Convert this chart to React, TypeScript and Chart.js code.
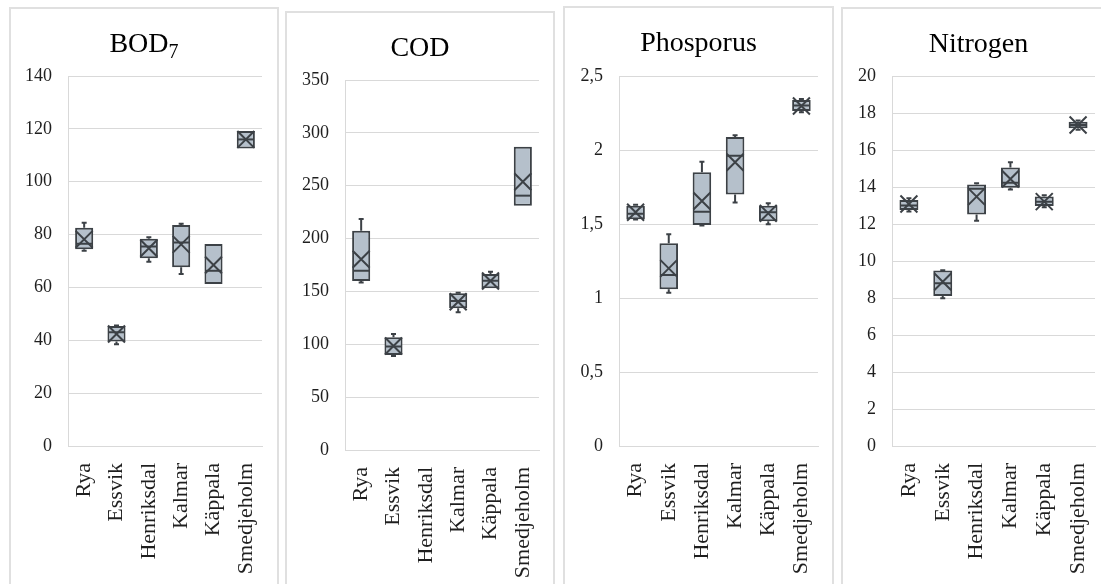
import React, { useEffect, useRef } from "react";
import { Chart, registerables } from "chart.js";

Chart.register(...registerables);

// ---------- data ----------
const categories = ["Rya", "Essvik", "Henriksdal", "Kalmar", "Käppala", "Smedjeholm"];

const bodMin = [73.9, 38.5, 69.7, 65.1, 61.3, 112.6];
const bodQ1 = [74.4, 39.5, 71.0, 67.6, 61.3, 112.6];
const bodMedian = [76.5, 43.0, 75.5, 77.0, 66.3, 116.0];
const bodQ3 = [82.6, 45.4, 78.4, 83.6, 76.4, 119.2];
const bodMax = [84.5, 45.6, 79.0, 84.1, 76.4, 119.2];
const bodMean = [78.2, 42.4, 74.8, 76.3, 68.5, 116.0];
const bodTicks = [0, 20, 40, 60, 80, 100, 120, 140];

const codMin = [158.5, 89.0, null, 130.2, 153.0, 231.1];
const codQ1 = [159.9, 89.9, null, 134.0, 153.0, 231.1];
const codMedian = [169.6, 98.0, null, 141.0, 160.0, 240.6];
const codQ3 = [207.5, 106.6, null, 148.2, 166.5, 286.9];
const codMax = [218.5, 109.7, null, 148.8, 168.7, 286.9];
const codMean = [180.4, 98.4, null, 140.3, 159.9, 253.8];
const codTicks = [0, 50, 100, 150, 200, 250, 300, 350];

const phosMin = [1.53, 1.036, 1.49, 1.646, 1.498, 2.255];
const phosQ1 = [1.532, 1.059, 1.493, 1.7, 1.518, 2.264];
const phosMedian = [1.57, 1.155, 1.583, 1.961, 1.58, 2.3];
const phosQ3 = [1.624, 1.37, 1.849, 2.088, 1.624, 2.338];
const phosMax = [1.63, 1.43, 1.921, 2.099, 1.64, 2.345];
const phosMean = [1.579, 1.2, 1.655, 1.917, 1.572, 2.297];
const phosTicks = ["0", "0,5", "1", "1,5", "2", "2,5"];

const nitMin = [12.67, 7.98, 12.18, 13.87, 12.9, 17.1];
const nitQ1 = [12.76, 8.11, 12.52, 13.96, 12.97, 17.17];
const nitMedian = [13.0, 8.8, 13.9, 14.23, 13.2, 17.35];
const nitQ3 = [13.3, 9.48, 14.14, 15.05, 13.48, 17.53];
const nitMax = [13.39, 9.5, 14.2, 15.34, 13.56, 17.6];
const nitMean = [13.08, 8.88, 13.48, 14.43, 13.21, 17.35];
const nitTicks = [0, 2, 4, 6, 8, 10, 12, 14, 16, 18, 20];

// ---------- styles ----------
const FONT = '"Liberation Serif", "Times New Roman", Times, serif';
const GRID = "#d9d9d9";
const PANEL_BORDER = "#e0e0e0";
const TXT = "#1f1f1f";
const BOX_FILL = "#b5c0cb";
const EDGE = "#3c4146";

type Num = number | null;
interface PanelDef {
  title: string;
  sub?: string;
  min: Num[];
  q1: Num[];
  median: Num[];
  q3: Num[];
  max: Num[];
  mean: Num[];
  ticks: (number | string)[];
  bx: number;
  by: number;
  bw: number;
  pl: number;
  pt: number;
  pr: number;
  pb: number;
}

const BORDER = 2;
const PAGE_BOTTOM = 600;

const panels: PanelDef[] = [
  { title: "BOD", sub: "7", min: bodMin, q1: bodQ1, median: bodMedian, q3: bodQ3, max: bodMax, mean: bodMean, ticks: bodTicks,
    bx: 9, by: 7, bw: 270, pl: 68, pt: 76, pr: 262, pb: 446 },
  { title: "COD", min: codMin, q1: codQ1, median: codMedian, q3: codQ3, max: codMax, mean: codMean, ticks: codTicks,
    bx: 285, by: 11, bw: 270, pl: 345, pt: 80, pr: 539, pb: 450 },
  { title: "Phosporus", min: phosMin, q1: phosQ1, median: phosMedian, q3: phosQ3, max: phosMax, mean: phosMean, ticks: phosTicks,
    bx: 563, by: 6, bw: 271, pl: 619, pt: 76, pr: 818, pb: 446 },
  { title: "Nitrogen", min: nitMin, q1: nitQ1, median: nitMedian, q3: nitQ3, max: nitMax, mean: nitMean, ticks: nitTicks,
    bx: 841, by: 7, bw: 275, pl: 892, pt: 76, pr: 1095, pb: 446 },
];

function tickNumber(t: number | string): number {
  return typeof t === "number" ? t : parseFloat(String(t).replace(",", "."));
}

const PanelChart: React.FC<{ p: PanelDef }> = ({ p }) => {
  const ref = useRef<HTMLCanvasElement | null>(null);
  const cw = p.bw - 2 * BORDER;
  const ch = PAGE_BOTTOM - p.by - 2 * BORDER;
  const cx = p.bx + BORDER;
  const cy = p.by + BORDER;

  useEffect(() => {
    if (!ref.current) return;
    const L = p.pl - cx;
    const T = p.pt - cy;
    const R = cx + cw - p.pr;
    const xH = ch - (p.pb - cy);
    const tickVals = p.ticks.map(tickNumber);
    const yMax = Math.max(...tickVals);
    const step = tickVals[1] - tickVals[0];
    const labelFor = (v: number) => {
      const idx = tickVals.findIndex((t) => Math.abs(t - v) < 1e-9);
      return idx >= 0 ? String(p.ticks[idx]) : "";
    };

    const boxPlugin = {
      id: "boxWhiskers",
      afterDatasetDraw(chart: any, args: any) {
        if (args.index !== 1) return;
        const ctx = chart.ctx;
        const y = chart.scales.y;
        const meta = chart.getDatasetMeta(1);
        ctx.save();
        ctx.strokeStyle = EDGE;
        ctx.lineWidth = 2;
        meta.data.forEach((bar: any, i: number) => {
          const q1 = p.q1[i], q3 = p.q3[i], mn = p.min[i], mx = p.max[i], md = p.median[i];
          if (q1 == null || q3 == null) return;
          const x = bar.x;
          const half = bar.width / 2;
          const cap = 2.5;
          ctx.beginPath();
          if (mx != null && mx > q3) {
            const ya = y.getPixelForValue(q3);
            const yb = y.getPixelForValue(mx);
            ctx.moveTo(x, ya);
            ctx.lineTo(x, yb);
            ctx.moveTo(x - cap, yb);
            ctx.lineTo(x + cap, yb);
          }
          if (mn != null && mn < q1) {
            const ya = y.getPixelForValue(q1);
            const yb = y.getPixelForValue(mn);
            ctx.moveTo(x, ya);
            ctx.lineTo(x, yb);
            ctx.moveTo(x - cap, yb);
            ctx.lineTo(x + cap, yb);
          }
          if (md != null) {
            const ym = y.getPixelForValue(md);
            ctx.moveTo(x - half + 1, ym);
            ctx.lineTo(x + half - 1, ym);
          }
          ctx.stroke();
        });
        ctx.restore();
      },
    };

    const titlePlugin = {
      id: "panelTitle",
      afterDraw(chart: any) {
        const ctx = chart.ctx;
        ctx.save();
        ctx.fillStyle = "#000";
        ctx.textBaseline = "alphabetic";
        const mainFont = `28px ${FONT}`;
        const subFont = `20px ${FONT}`;
        ctx.font = mainFont;
        const wMain = ctx.measureText(p.title).width;
        let wSub = 0;
        if (p.sub) {
          ctx.font = subFont;
          wSub = ctx.measureText(p.sub).width;
        }
        const total = wMain + wSub;
        const x0 = chart.width / 2 - total / 2;
        const base = 43;
        ctx.textAlign = "left";
        ctx.font = mainFont;
        ctx.fillText(p.title, x0, base);
        if (p.sub) {
          ctx.font = subFont;
          ctx.fillText(p.sub, x0 + wMain, base + 6);
        }
        ctx.restore();
      },
    };

    const chart = new Chart(ref.current, {
      type: "bar",
      data: {
        labels: categories,
        datasets: [
          {
            type: "line",
            data: p.mean as any,
            showLine: false,
            pointStyle: "crossRot",
            pointRadius: 12,
            pointHoverRadius: 12,
            pointBorderWidth: 2,
            pointBorderColor: EDGE,
            pointBackgroundColor: "rgba(0,0,0,0)",
          } as any,
          {
            type: "bar",
            data: p.q1.map((a, i) => (a == null || p.q3[i] == null ? null : [a, p.q3[i] as number])) as any,
            backgroundColor: BOX_FILL,
            borderColor: EDGE,
            borderWidth: 2,
            borderSkipped: false,
            barPercentage: 0.56,
            categoryPercentage: 1,
          } as any,
        ],
      },
      options: {
        responsive: false,
        animation: false,
        devicePixelRatio: 1,
        events: [],
        layout: { padding: { left: 0, top: T, right: R, bottom: 0 } },
        plugins: {
          legend: { display: false },
          tooltip: { enabled: false },
          title: { display: false },
        },
        scales: {
          x: {
            type: "category",
            grid: { display: false, drawTicks: false },
            border: { display: true, color: GRID, width: 1 },
            ticks: {
              font: { family: FONT, size: 22 },
              color: TXT,
              maxRotation: 90,
              minRotation: 90,
              autoSkip: false,
              padding: 17,
            },
            afterFit: (s: any) => {
              s.height = xH;
              s.paddingLeft = 0;
              s.paddingRight = 0;
            },
          },
          y: {
            min: 0,
            max: yMax,
            grid: { color: GRID, lineWidth: 1, drawTicks: false },
            border: { display: true, color: GRID, width: 1 },
            ticks: {
              stepSize: step,
              font: { family: FONT, size: 18 },
              color: TXT,
              padding: 16,
              callback: (v: any) => labelFor(Number(v)),
            },
            afterFit: (s: any) => {
              s.width = L;
              s.paddingTop = 0;
              s.paddingBottom = 0;
            },
          },
        },
      } as any,
      plugins: [boxPlugin, titlePlugin],
    });
    return () => chart.destroy();
  }, []);

  return (
    <div
      style={{
        position: "absolute",
        left: p.bx,
        top: p.by,
        width: cw,
        height: ch,
        border: `${BORDER}px solid ${PANEL_BORDER}`,
        background: "#fff",
      }}
    >
      <canvas ref={ref} width={cw} height={ch} style={{ display: "block", width: cw, height: ch }} />
    </div>
  );
};

export default function App() {
  return (
    <div
      style={{
        position: "fixed",
        left: 0,
        top: 0,
        width: 1101,
        height: 584,
        overflow: "hidden",
        background: "#fff",
      }}
    >
      {panels.map((p) => (
        <PanelChart key={p.title} p={p} />
      ))}
    </div>
  );
}
